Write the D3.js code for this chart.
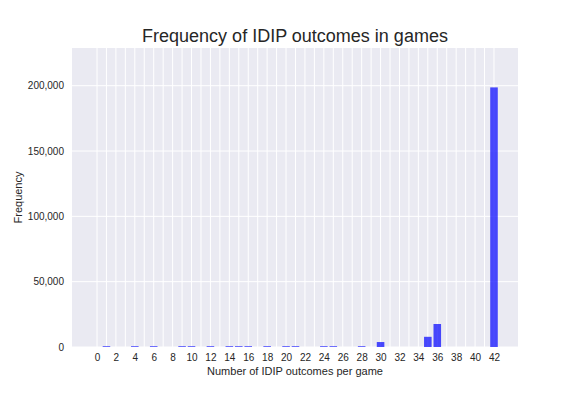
<!DOCTYPE html>
<html>
<head>
<meta charset="utf-8">
<script src="https://cdn.jsdelivr.net/npm/d3@7"></script>
<style>
  body { margin: 0; background: #fff; }
  text { font-family: "Liberation Sans", Arial, sans-serif; fill: #262626; }
</style>
</head>
<body>
<div id="chart"></div>
<script>
// outcomes per game and how many games had that count
const outcomes = [1, 4, 6, 9, 10, 12, 14, 15, 16, 18, 20, 21, 24, 25, 28, 30, 35, 36, 42];
const counts = [600, 600, 600, 600, 600, 600, 600, 600, 600, 600, 600, 600, 600, 600, 600, 3800, 7800, 17600, 198700];
const xTicks = d3.range(0, 43, 2);
const yTicks = [0, 50000, 100000, 150000, 200000];

const W = 576, H = 396;
const margin = {top: 48, right: 58, bottom: 49, left: 72},
  width = W - margin.left - margin.right,
  height = H - margin.top - margin.bottom;

const svg = d3.select("#chart")
  .append("svg")
    .attr("width", W)
    .attr("height", H);

const g = svg.append("g")
  .attr("transform", `translate(${margin.left}, ${margin.top})`);

const x = d3.scaleLinear()
  .domain([-2.645, 44.54])
  .range([0, width]);

const y = d3.scaleLinear()
  .domain([0, 228850])
  .range([height, 0]);

g.append("rect")
  .attr("width", width)
  .attr("height", height)
  .attr("fill", "#eaeaf2");

// grid
g.selectAll(".vgrid")
  .data(d3.range(0, 43))
  .join("line")
    .attr("x1", d => x(d)).attr("x2", d => x(d))
    .attr("y1", 0).attr("y2", height)
    .attr("stroke", "#fff")
    .attr("stroke-width", 1);

g.selectAll(".hgrid")
  .data(yTicks)
  .join("line")
    .attr("x1", 0).attr("x2", width)
    .attr("y1", d => y(d)).attr("y2", d => y(d))
    .attr("stroke", "#fff")
    .attr("stroke-width", 1);

// bars
const bw = x(0.8) - x(0);
g.selectAll(".bar")
  .data(outcomes)
  .join("rect")
    .attr("x", d => x(d) - bw / 2)
    .attr("y", (d, i) => y(counts[i]))
    .attr("width", bw)
    .attr("height", (d, i) => height - y(counts[i]))
    .attr("fill", "blue")
    .attr("fill-opacity", 0.7);

// axes
const xAxis = g.append("g")
  .attr("transform", `translate(0, ${height})`)
  .call(d3.axisBottom(x).tickValues(xTicks).tickSize(0).tickPadding(7).tickFormat(d3.format("d")));
xAxis.select(".domain").remove();
xAxis.selectAll("text").style("font-size", "10px");

const yAxis = g.append("g")
  .call(d3.axisLeft(y).tickValues(yTicks).tickSize(0).tickPadding(8).tickFormat(d3.format(",")));
yAxis.select(".domain").remove();
yAxis.selectAll("text").style("font-size", "10px");

g.append("text")
  .attr("x", width / 2)
  .attr("y", height + 28)
  .attr("text-anchor", "middle")
  .style("font-size", "11px")
  .text("Number of IDIP outcomes per game");

g.append("text")
  .attr("transform", `translate(-50, ${height / 2}) rotate(-90)`)
  .attr("text-anchor", "middle")
  .style("font-size", "11px")
  .text("Frequency");

svg.append("text")
  .attr("x", margin.left + width / 2)
  .attr("y", 42)
  .attr("text-anchor", "middle")
  .style("font-size", "18px")
  .text("Frequency of IDIP outcomes in games");
</script>
</body>
</html>
